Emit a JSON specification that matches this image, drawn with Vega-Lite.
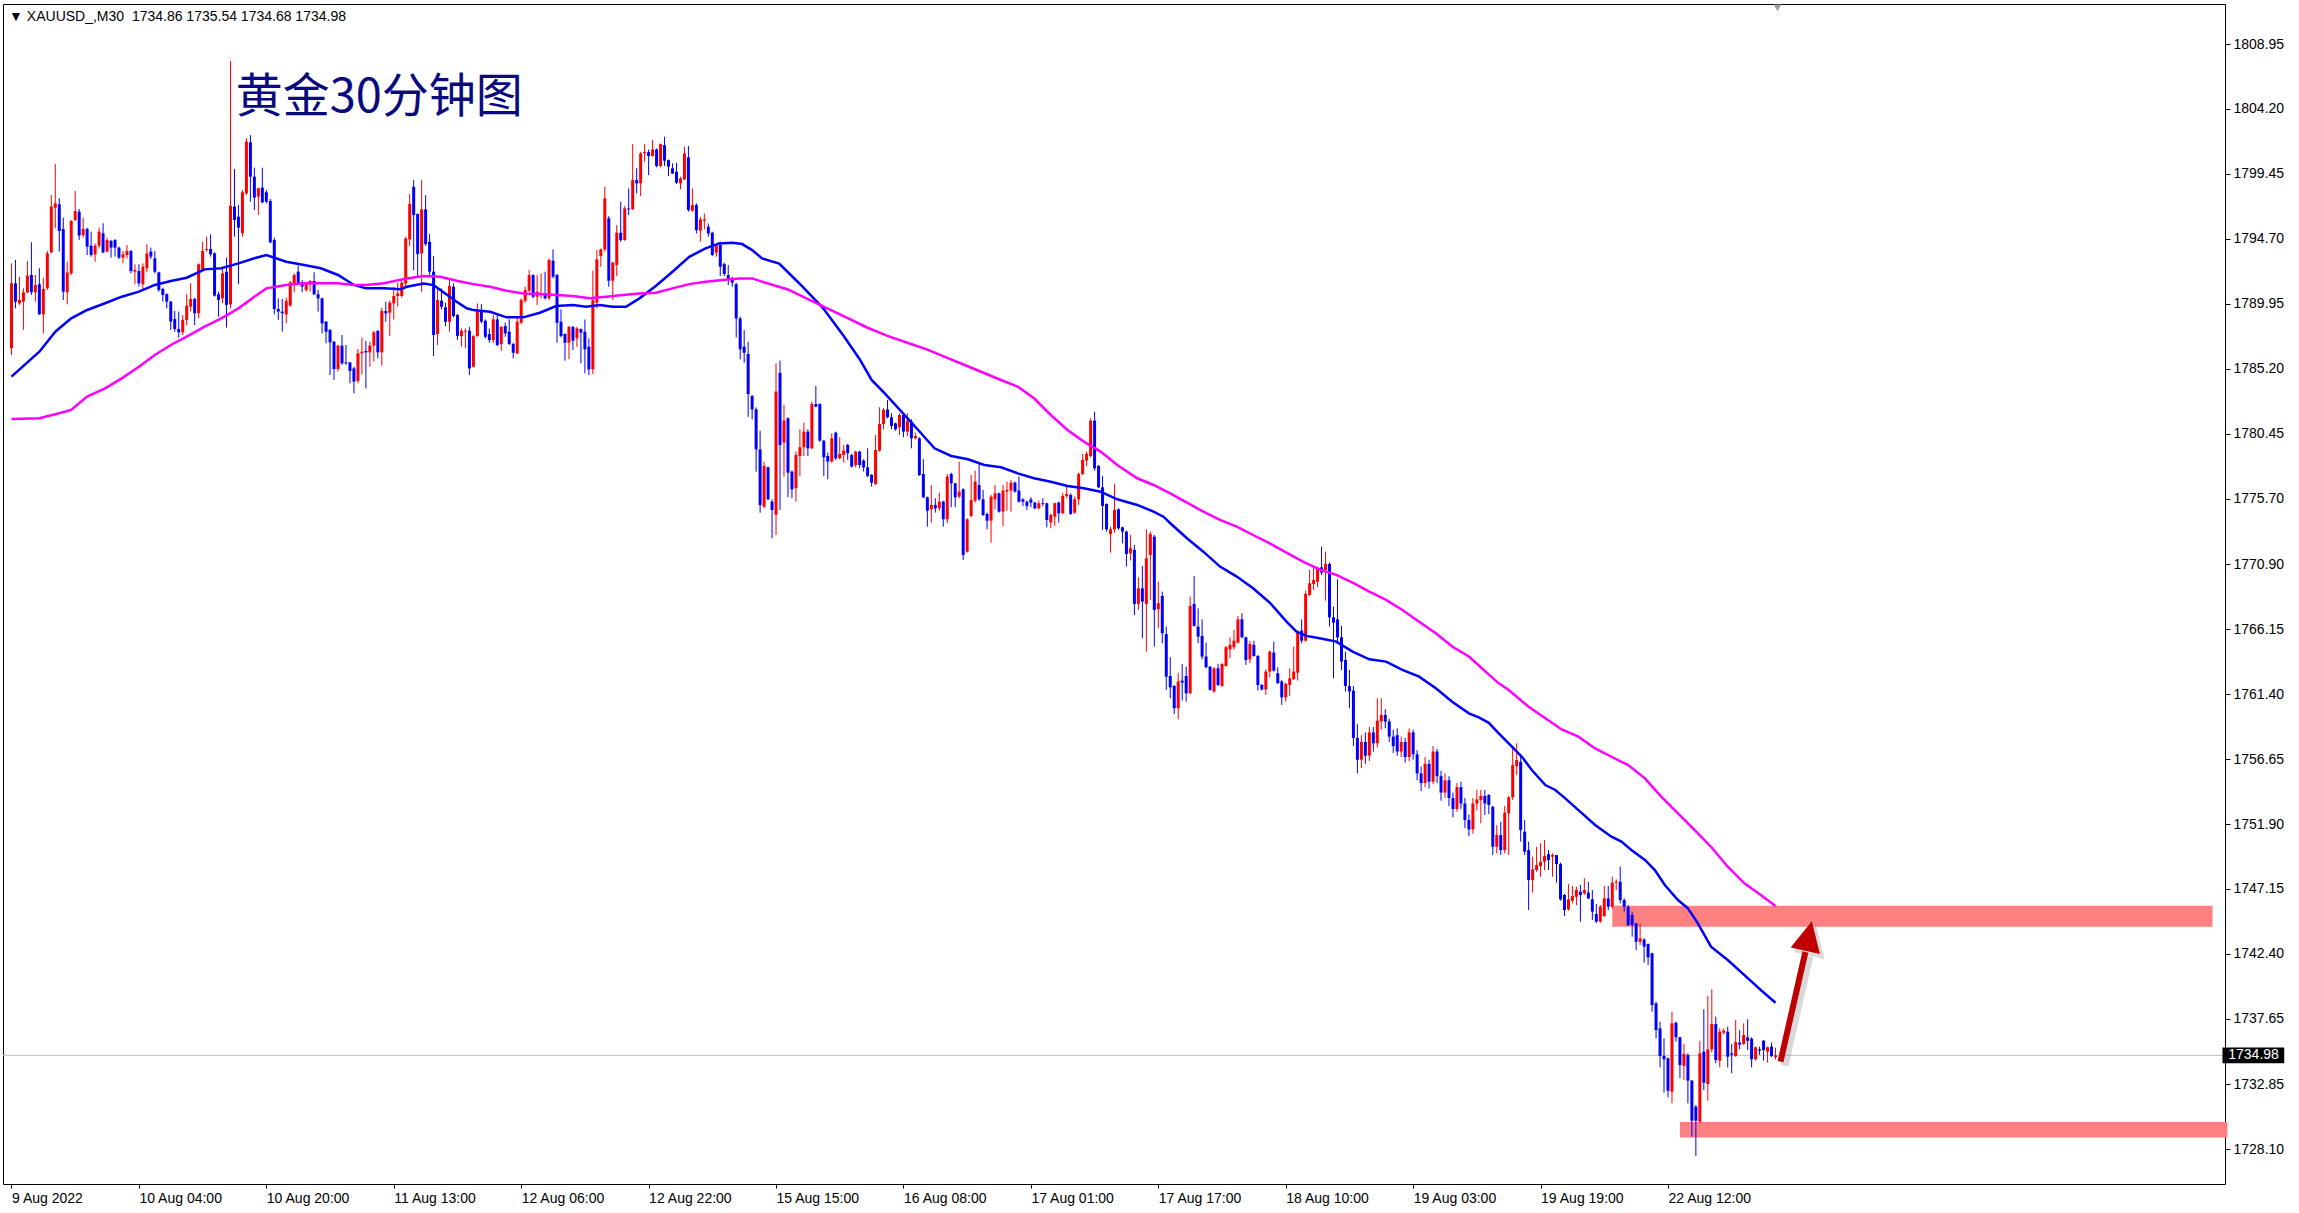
{
"$schema":"https://vega.github.io/schema/vega-lite/v6.json",
"width":2222,"height":1180,
"autosize":{"type":"none"},
"padding":{"left":3,"top":4,"right":74,"bottom":29},
"background":"#ffffff",
"config":{"view":{"stroke":"#000000","strokeWidth":1,"fill":"#ffffff"}},
"resolve":{"axis":{"x":"independent","y":"independent"}},
"datasets":{
"candles":[
{"i":0,"o":1786.7,"h":1792.91,"l":1786.21,"c":1791.45},
{"i":1,"o":1791.45,"h":1793.16,"l":1789.62,"c":1790.11},
{"i":2,"o":1789.99,"h":1791.94,"l":1789.87,"c":1790.23},
{"i":3,"o":1790.11,"h":1791.08,"l":1788.04,"c":1790.79},
{"i":4,"o":1790.79,"h":1793.08,"l":1790.72,"c":1792.01},
{"i":5,"o":1792.06,"h":1794.45,"l":1790.6,"c":1790.79},
{"i":6,"o":1790.79,"h":1792.06,"l":1790.11,"c":1791.33},
{"i":7,"o":1791.38,"h":1792.55,"l":1789.13,"c":1789.18},
{"i":8,"o":1789.18,"h":1791.86,"l":1787.79,"c":1791.04},
{"i":9,"o":1791.08,"h":1793.81,"l":1790.96,"c":1793.64},
{"i":10,"o":1793.72,"h":1797.91,"l":1793.64,"c":1797.06},
{"i":11,"o":1796.98,"h":1800.18,"l":1795.47,"c":1797.3},
{"i":12,"o":1797.23,"h":1797.67,"l":1793.77,"c":1795.28},
{"i":13,"o":1795.42,"h":1796.25,"l":1790.23,"c":1790.84},
{"i":14,"o":1790.79,"h":1793.03,"l":1789.91,"c":1792.25},
{"i":15,"o":1792.18,"h":1796.08,"l":1792.06,"c":1796.01},
{"i":16,"o":1796.08,"h":1798.2,"l":1796.01,"c":1796.74},
{"i":17,"o":1796.69,"h":1796.89,"l":1794.62,"c":1794.94},
{"i":18,"o":1794.98,"h":1796.25,"l":1794.79,"c":1795.42},
{"i":19,"o":1795.42,"h":1795.52,"l":1793.52,"c":1794.13},
{"i":20,"o":1794.2,"h":1795.23,"l":1793.4,"c":1793.52},
{"i":21,"o":1793.57,"h":1794.37,"l":1793.03,"c":1794.2},
{"i":22,"o":1794.2,"h":1795.52,"l":1794.01,"c":1795.23},
{"i":23,"o":1795.11,"h":1795.84,"l":1793.64,"c":1793.72},
{"i":24,"o":1793.77,"h":1794.79,"l":1793.72,"c":1794.62},
{"i":25,"o":1794.55,"h":1794.62,"l":1793.33,"c":1794.06},
{"i":26,"o":1794.62,"h":1794.69,"l":1793.4,"c":1794.06},
{"i":27,"o":1794.06,"h":1794.13,"l":1793.23,"c":1793.33},
{"i":28,"o":1793.33,"h":1793.81,"l":1792.91,"c":1793.57},
{"i":29,"o":1793.52,"h":1794.25,"l":1793.28,"c":1793.81},
{"i":30,"o":1793.81,"h":1793.89,"l":1792.18,"c":1792.35},
{"i":31,"o":1792.3,"h":1792.84,"l":1791.38,"c":1792.42},
{"i":32,"o":1792.35,"h":1792.84,"l":1791.21,"c":1791.45},
{"i":33,"o":1791.38,"h":1792.91,"l":1790.96,"c":1792.67},
{"i":34,"o":1792.55,"h":1794.3,"l":1792.25,"c":1793.64},
{"i":35,"o":1793.77,"h":1794.06,"l":1793.23,"c":1793.4},
{"i":36,"o":1793.28,"h":1793.81,"l":1792.18,"c":1792.3},
{"i":37,"o":1792.25,"h":1792.3,"l":1790.84,"c":1790.96},
{"i":38,"o":1791.04,"h":1791.13,"l":1790.11,"c":1790.6},
{"i":39,"o":1790.65,"h":1790.72,"l":1789.62,"c":1790.11},
{"i":40,"o":1790.11,"h":1790.16,"l":1788.04,"c":1788.65},
{"i":41,"o":1788.84,"h":1789.43,"l":1787.91,"c":1788.11},
{"i":42,"o":1788.11,"h":1789.38,"l":1787.48,"c":1787.87},
{"i":43,"o":1787.87,"h":1789.13,"l":1787.67,"c":1788.77},
{"i":44,"o":1788.77,"h":1790.65,"l":1788.4,"c":1789.82},
{"i":45,"o":1789.74,"h":1791.45,"l":1789.38,"c":1790.3},
{"i":46,"o":1790.3,"h":1790.4,"l":1788.4,"c":1789.26},
{"i":47,"o":1789.26,"h":1792.91,"l":1788.89,"c":1792.84},
{"i":48,"o":1792.42,"h":1794.5,"l":1792.35,"c":1793.81},
{"i":49,"o":1793.89,"h":1794.86,"l":1793.77,"c":1793.96},
{"i":50,"o":1793.96,"h":1795.03,"l":1793.4,"c":1793.57},
{"i":51,"o":1793.64,"h":1793.72,"l":1790.48,"c":1790.55},
{"i":52,"o":1790.65,"h":1790.84,"l":1789.01,"c":1790.23},
{"i":53,"o":1790.35,"h":1792.55,"l":1789.99,"c":1792.18},
{"i":54,"o":1792.3,"h":1793.33,"l":1788.21,"c":1789.87},
{"i":55,"o":1789.91,"h":1807.71,"l":1789.62,"c":1797.13},
{"i":56,"o":1797.06,"h":1799.81,"l":1794.86,"c":1796.08},
{"i":57,"o":1796.33,"h":1797.18,"l":1791.38,"c":1795.52},
{"i":58,"o":1795.11,"h":1798.28,"l":1794.86,"c":1798.11},
{"i":59,"o":1798.03,"h":1802.06,"l":1797.91,"c":1801.81},
{"i":60,"o":1801.76,"h":1802.3,"l":1797.42,"c":1799.25},
{"i":61,"o":1799.25,"h":1799.91,"l":1796.81,"c":1797.72},
{"i":62,"o":1797.79,"h":1798.45,"l":1796.45,"c":1798.4},
{"i":63,"o":1798.45,"h":1799.91,"l":1797.3,"c":1797.37},
{"i":64,"o":1798.11,"h":1798.28,"l":1797.3,"c":1797.42},
{"i":65,"o":1797.47,"h":1797.62,"l":1794.37,"c":1794.45},
{"i":66,"o":1794.62,"h":1794.79,"l":1789.18,"c":1789.57},
{"i":67,"o":1789.57,"h":1790.35,"l":1788.77,"c":1789.38},
{"i":68,"o":1789.38,"h":1790.3,"l":1787.91,"c":1789.26},
{"i":69,"o":1789.18,"h":1790.4,"l":1788.52,"c":1790.16},
{"i":70,"o":1789.82,"h":1791.62,"l":1789.74,"c":1791.52},
{"i":71,"o":1791.45,"h":1792.18,"l":1790.79,"c":1792.06},
{"i":72,"o":1792.3,"h":1792.74,"l":1791.33,"c":1791.45},
{"i":73,"o":1791.52,"h":1791.69,"l":1790.79,"c":1791.21},
{"i":74,"o":1790.96,"h":1791.57,"l":1790.84,"c":1791.52},
{"i":75,"o":1791.38,"h":1791.69,"l":1790.84,"c":1791.62},
{"i":76,"o":1791.62,"h":1792.25,"l":1790.6,"c":1790.65},
{"i":77,"o":1790.65,"h":1790.96,"l":1789.38,"c":1790.35},
{"i":78,"o":1790.35,"h":1790.4,"l":1787.79,"c":1788.52},
{"i":79,"o":1788.65,"h":1788.69,"l":1787.06,"c":1787.91},
{"i":80,"o":1788.04,"h":1788.11,"l":1784.75,"c":1787.13},
{"i":81,"o":1787.18,"h":1787.23,"l":1784.38,"c":1785.18},
{"i":82,"o":1785.18,"h":1786.94,"l":1784.99,"c":1786.89},
{"i":83,"o":1786.89,"h":1787.67,"l":1785.48,"c":1785.6},
{"i":84,"o":1785.67,"h":1786.94,"l":1785.48,"c":1785.6},
{"i":85,"o":1785.67,"h":1785.67,"l":1784.14,"c":1785.04},
{"i":86,"o":1785.23,"h":1785.35,"l":1783.4,"c":1784.26},
{"i":87,"o":1784.31,"h":1786.65,"l":1784.14,"c":1786.33},
{"i":88,"o":1786.33,"h":1787.48,"l":1784.79,"c":1786.45},
{"i":89,"o":1786.5,"h":1787.23,"l":1783.77,"c":1786.4},
{"i":90,"o":1786.4,"h":1787.18,"l":1785.35,"c":1786.89},
{"i":91,"o":1786.89,"h":1787.96,"l":1785.72,"c":1787.87},
{"i":92,"o":1787.96,"h":1788.04,"l":1785.96,"c":1786.4},
{"i":93,"o":1786.4,"h":1789.67,"l":1785.43,"c":1789.43},
{"i":94,"o":1789.42,"h":1790.1,"l":1788.64,"c":1789.25},
{"i":95,"o":1789.3,"h":1790.18,"l":1787.59,"c":1790.03},
{"i":96,"o":1789.98,"h":1791.2,"l":1788.81,"c":1790.52},
{"i":97,"o":1790.52,"h":1791.49,"l":1789.74,"c":1790.71},
{"i":98,"o":1790.52,"h":1791.69,"l":1790.42,"c":1791.49},
{"i":99,"o":1791.44,"h":1794.86,"l":1791.2,"c":1794.73},
{"i":100,"o":1794.66,"h":1797.98,"l":1794.18,"c":1797.25},
{"i":101,"o":1798.51,"h":1799.0,"l":1792.42,"c":1796.44},
{"i":102,"o":1796.52,"h":1796.56,"l":1791.98,"c":1793.59},
{"i":103,"o":1793.64,"h":1799.0,"l":1790.83,"c":1796.86},
{"i":104,"o":1796.86,"h":1797.9,"l":1794.18,"c":1794.32},
{"i":105,"o":1794.49,"h":1795.05,"l":1791.93,"c":1792.3},
{"i":106,"o":1792.3,"h":1793.44,"l":1786.13,"c":1787.67},
{"i":107,"o":1787.74,"h":1791.08,"l":1786.93,"c":1790.22},
{"i":108,"o":1790.18,"h":1791.08,"l":1789.54,"c":1789.74},
{"i":109,"o":1789.69,"h":1790.03,"l":1788.32,"c":1788.64},
{"i":110,"o":1788.64,"h":1791.69,"l":1787.91,"c":1791.25},
{"i":111,"o":1791.2,"h":1791.44,"l":1788.96,"c":1789.06},
{"i":112,"o":1789.13,"h":1789.2,"l":1787.3,"c":1787.59},
{"i":113,"o":1787.59,"h":1788.15,"l":1786.81,"c":1787.98},
{"i":114,"o":1787.91,"h":1788.15,"l":1786.69,"c":1787.98},
{"i":115,"o":1787.98,"h":1788.27,"l":1784.74,"c":1785.23},
{"i":116,"o":1785.35,"h":1787.66,"l":1785.3,"c":1787.59},
{"i":117,"o":1787.59,"h":1789.98,"l":1787.54,"c":1789.44},
{"i":118,"o":1789.49,"h":1789.93,"l":1788.52,"c":1788.64},
{"i":119,"o":1788.71,"h":1788.81,"l":1787.42,"c":1787.54},
{"i":120,"o":1787.74,"h":1788.15,"l":1787.1,"c":1787.3},
{"i":121,"o":1787.3,"h":1789.13,"l":1787.1,"c":1788.81},
{"i":122,"o":1788.81,"h":1789.13,"l":1786.86,"c":1786.93},
{"i":123,"o":1787.01,"h":1788.32,"l":1786.52,"c":1788.27},
{"i":124,"o":1788.32,"h":1788.57,"l":1787.54,"c":1787.79},
{"i":125,"o":1787.91,"h":1788.81,"l":1786.93,"c":1787.01},
{"i":126,"o":1787.01,"h":1787.1,"l":1785.96,"c":1786.37},
{"i":127,"o":1786.32,"h":1789.06,"l":1786.28,"c":1788.64},
{"i":128,"o":1788.57,"h":1790.35,"l":1788.47,"c":1790.22},
{"i":129,"o":1790.18,"h":1791.2,"l":1790.03,"c":1790.96},
{"i":130,"o":1790.91,"h":1792.42,"l":1790.83,"c":1792.05},
{"i":131,"o":1792.05,"h":1792.13,"l":1790.35,"c":1790.47},
{"i":132,"o":1790.47,"h":1792.05,"l":1789.86,"c":1790.83},
{"i":133,"o":1790.59,"h":1792.17,"l":1790.35,"c":1790.71},
{"i":134,"o":1790.66,"h":1792.3,"l":1790.27,"c":1790.35},
{"i":135,"o":1790.35,"h":1793.27,"l":1790.22,"c":1793.15},
{"i":136,"o":1793.1,"h":1793.93,"l":1791.81,"c":1791.93},
{"i":137,"o":1792.05,"h":1792.13,"l":1787.1,"c":1788.57},
{"i":138,"o":1788.64,"h":1789.54,"l":1787.49,"c":1787.59},
{"i":139,"o":1787.74,"h":1787.79,"l":1785.79,"c":1787.1},
{"i":140,"o":1787.1,"h":1788.32,"l":1785.89,"c":1788.27},
{"i":141,"o":1788.27,"h":1788.32,"l":1786.57,"c":1787.25},
{"i":142,"o":1787.42,"h":1788.27,"l":1786.81,"c":1788.15},
{"i":143,"o":1788.1,"h":1788.15,"l":1785.59,"c":1787.84},
{"i":144,"o":1787.91,"h":1788.81,"l":1784.86,"c":1786.62},
{"i":145,"o":1786.81,"h":1787.42,"l":1784.74,"c":1785.15},
{"i":146,"o":1785.15,"h":1792.37,"l":1784.81,"c":1790.22},
{"i":147,"o":1790.03,"h":1793.88,"l":1789.62,"c":1793.2},
{"i":148,"o":1793.44,"h":1794.0,"l":1792.66,"c":1793.93},
{"i":149,"o":1793.93,"h":1798.51,"l":1793.76,"c":1797.66},
{"i":150,"o":1796.2,"h":1796.37,"l":1791.2,"c":1791.64},
{"i":151,"o":1791.64,"h":1793.03,"l":1790.22,"c":1792.96},
{"i":152,"o":1792.79,"h":1795.71,"l":1791.98,"c":1795.15},
{"i":153,"o":1795.15,"h":1797.42,"l":1794.49,"c":1794.61},
{"i":154,"o":1794.61,"h":1797.1,"l":1794.56,"c":1796.93},
{"i":155,"o":1796.93,"h":1798.39,"l":1796.44,"c":1796.86},
{"i":156,"o":1796.86,"h":1801.63,"l":1796.81,"c":1799.0},
{"i":157,"o":1799.0,"h":1799.86,"l":1798.03,"c":1798.76},
{"i":158,"o":1798.76,"h":1801.07,"l":1797.83,"c":1800.95},
{"i":159,"o":1800.95,"h":1801.63,"l":1800.34,"c":1801.05},
{"i":160,"o":1801.05,"h":1801.24,"l":1799.37,"c":1800.76},
{"i":161,"o":1800.76,"h":1801.93,"l":1800.71,"c":1801.24},
{"i":162,"o":1801.24,"h":1801.32,"l":1799.93,"c":1800.03},
{"i":163,"o":1800.03,"h":1801.68,"l":1799.93,"c":1801.63},
{"i":164,"o":1801.56,"h":1802.17,"l":1800.03,"c":1800.42},
{"i":165,"o":1800.46,"h":1800.51,"l":1799.29,"c":1799.98},
{"i":166,"o":1799.86,"h":1800.22,"l":1799.44,"c":1799.49},
{"i":167,"o":1799.61,"h":1800.27,"l":1798.71,"c":1798.81},
{"i":168,"o":1798.76,"h":1799.25,"l":1798.32,"c":1799.12},
{"i":169,"o":1799.05,"h":1801.44,"l":1799.0,"c":1800.95},
{"i":170,"o":1800.66,"h":1801.49,"l":1796.69,"c":1796.81},
{"i":171,"o":1796.76,"h":1798.39,"l":1796.69,"c":1797.17},
{"i":172,"o":1797.17,"h":1797.3,"l":1795.1,"c":1795.34},
{"i":173,"o":1795.3,"h":1796.32,"l":1794.49,"c":1796.12},
{"i":174,"o":1796.03,"h":1796.56,"l":1795.39,"c":1796.12},
{"i":175,"o":1795.59,"h":1795.83,"l":1794.86,"c":1795.1},
{"i":176,"o":1795.15,"h":1795.22,"l":1793.44,"c":1793.52},
{"i":177,"o":1793.69,"h":1794.37,"l":1793.39,"c":1794.25},
{"i":178,"o":1794.25,"h":1794.49,"l":1791.98,"c":1792.66},
{"i":179,"o":1792.86,"h":1792.96,"l":1791.98,"c":1792.13},
{"i":180,"o":1792.05,"h":1792.79,"l":1791.32,"c":1791.81},
{"i":181,"o":1791.74,"h":1791.93,"l":1791.2,"c":1791.49},
{"i":182,"o":1791.39,"h":1791.49,"l":1787.49,"c":1788.88},
{"i":183,"o":1788.88,"h":1789.01,"l":1785.89,"c":1786.62},
{"i":184,"o":1786.81,"h":1788.03,"l":1785.64,"c":1786.37},
{"i":185,"o":1786.28,"h":1787.18,"l":1781.69,"c":1783.35},
{"i":186,"o":1783.2,"h":1783.28,"l":1781.5,"c":1782.23},
{"i":187,"o":1782.23,"h":1782.37,"l":1777.67,"c":1779.3},
{"i":188,"o":1779.3,"h":1780.67,"l":1774.67,"c":1775.23},
{"i":189,"o":1775.12,"h":1778.41,"l":1774.99,"c":1778.09},
{"i":190,"o":1777.99,"h":1778.04,"l":1775.6,"c":1775.65},
{"i":191,"o":1775.48,"h":1775.65,"l":1772.8,"c":1774.87},
{"i":192,"o":1774.51,"h":1785.6,"l":1773.04,"c":1783.53},
{"i":193,"o":1784.9,"h":1785.8,"l":1774.87,"c":1779.63},
{"i":194,"o":1779.8,"h":1782.55,"l":1777.31,"c":1781.41},
{"i":195,"o":1781.58,"h":1781.65,"l":1775.8,"c":1777.6},
{"i":196,"o":1777.68,"h":1777.75,"l":1775.73,"c":1776.38},
{"i":197,"o":1776.46,"h":1779.14,"l":1775.48,"c":1778.89},
{"i":198,"o":1778.82,"h":1780.77,"l":1777.36,"c":1779.46},
{"i":199,"o":1779.46,"h":1781.26,"l":1778.82,"c":1780.6},
{"i":200,"o":1780.6,"h":1780.77,"l":1778.82,"c":1779.38},
{"i":201,"o":1779.38,"h":1782.8,"l":1779.31,"c":1782.62},
{"i":202,"o":1782.62,"h":1783.94,"l":1782.38,"c":1782.43},
{"i":203,"o":1782.62,"h":1782.67,"l":1779.87,"c":1779.94},
{"i":204,"o":1779.94,"h":1779.99,"l":1777.36,"c":1778.72},
{"i":205,"o":1778.82,"h":1779.07,"l":1777.11,"c":1778.41},
{"i":206,"o":1778.41,"h":1780.48,"l":1778.33,"c":1780.11},
{"i":207,"o":1780.53,"h":1780.6,"l":1778.53,"c":1778.65},
{"i":208,"o":1778.65,"h":1780.19,"l":1778.58,"c":1778.97},
{"i":209,"o":1778.89,"h":1779.63,"l":1778.33,"c":1779.21},
{"i":210,"o":1779.63,"h":1779.7,"l":1778.53,"c":1779.02},
{"i":211,"o":1778.89,"h":1778.97,"l":1777.99,"c":1778.04},
{"i":212,"o":1778.16,"h":1779.21,"l":1777.99,"c":1779.14},
{"i":213,"o":1779.14,"h":1779.21,"l":1777.92,"c":1778.16},
{"i":214,"o":1778.48,"h":1778.58,"l":1777.68,"c":1777.99},
{"i":215,"o":1777.99,"h":1779.38,"l":1777.26,"c":1777.36},
{"i":216,"o":1777.43,"h":1777.5,"l":1776.58,"c":1776.87},
{"i":217,"o":1776.77,"h":1780.36,"l":1776.7,"c":1779.26},
{"i":218,"o":1779.21,"h":1782.38,"l":1779.14,"c":1781.16},
{"i":219,"o":1781.16,"h":1782.31,"l":1780.77,"c":1782.19},
{"i":220,"o":1782.23,"h":1782.92,"l":1781.58,"c":1781.65},
{"i":221,"o":1781.65,"h":1781.94,"l":1780.77,"c":1781.02},
{"i":222,"o":1781.21,"h":1781.26,"l":1780.67,"c":1780.77},
{"i":223,"o":1780.92,"h":1781.94,"l":1780.36,"c":1781.82},
{"i":224,"o":1781.82,"h":1781.94,"l":1780.19,"c":1780.6},
{"i":225,"o":1780.6,"h":1781.94,"l":1780.28,"c":1781.41},
{"i":226,"o":1781.33,"h":1781.5,"l":1779.38,"c":1780.11},
{"i":227,"o":1780.11,"h":1780.53,"l":1780.04,"c":1780.28},
{"i":228,"o":1780.11,"h":1780.19,"l":1777.36,"c":1777.43},
{"i":229,"o":1777.5,"h":1778.58,"l":1775.73,"c":1775.8},
{"i":230,"o":1775.8,"h":1775.85,"l":1773.65,"c":1774.82},
{"i":231,"o":1774.92,"h":1776.7,"l":1773.95,"c":1775.24},
{"i":232,"o":1775.24,"h":1775.73,"l":1774.68,"c":1774.99},
{"i":233,"o":1774.99,"h":1776.14,"l":1774.82,"c":1775.48},
{"i":234,"o":1775.48,"h":1775.55,"l":1773.65,"c":1774.19},
{"i":235,"o":1774.19,"h":1777.5,"l":1773.9,"c":1777.31},
{"i":236,"o":1777.5,"h":1777.6,"l":1775.07,"c":1776.82},
{"i":237,"o":1776.82,"h":1776.87,"l":1775.07,"c":1775.8},
{"i":238,"o":1775.85,"h":1778.41,"l":1775.73,"c":1776.21},
{"i":239,"o":1776.38,"h":1776.46,"l":1771.21,"c":1771.58},
{"i":240,"o":1771.82,"h":1774.26,"l":1771.75,"c":1774.19},
{"i":241,"o":1774.43,"h":1777.43,"l":1774.34,"c":1775.6},
{"i":242,"o":1775.55,"h":1777.75,"l":1775.41,"c":1776.94},
{"i":243,"o":1776.7,"h":1778.29,"l":1775.55,"c":1775.65},
{"i":244,"o":1775.65,"h":1776.33,"l":1774.43,"c":1774.51},
{"i":245,"o":1774.58,"h":1774.68,"l":1773.46,"c":1774.09},
{"i":246,"o":1774.09,"h":1775.97,"l":1772.48,"c":1775.85},
{"i":247,"o":1775.65,"h":1776.7,"l":1774.92,"c":1776.09},
{"i":248,"o":1776.09,"h":1776.14,"l":1774.68,"c":1774.75},
{"i":249,"o":1774.75,"h":1776.7,"l":1773.7,"c":1776.29},
{"i":250,"o":1776.21,"h":1776.94,"l":1774.82,"c":1776.33},
{"i":251,"o":1776.29,"h":1777.07,"l":1774.75,"c":1776.87},
{"i":252,"o":1776.87,"h":1776.94,"l":1776.14,"c":1776.21},
{"i":253,"o":1776.29,"h":1777.31,"l":1775.41,"c":1775.48},
{"i":254,"o":1775.65,"h":1775.73,"l":1775.16,"c":1775.48},
{"i":255,"o":1775.48,"h":1775.55,"l":1774.87,"c":1775.16},
{"i":256,"o":1775.65,"h":1775.8,"l":1775.07,"c":1775.41},
{"i":257,"o":1775.41,"h":1775.48,"l":1774.92,"c":1774.99},
{"i":258,"o":1774.99,"h":1775.55,"l":1774.92,"c":1775.36},
{"i":259,"o":1775.36,"h":1775.73,"l":1775.16,"c":1775.31},
{"i":260,"o":1775.36,"h":1775.41,"l":1773.6,"c":1774.14},
{"i":261,"o":1773.95,"h":1774.58,"l":1773.53,"c":1774.51},
{"i":262,"o":1774.38,"h":1775.41,"l":1773.7,"c":1775.36},
{"i":263,"o":1775.41,"h":1775.48,"l":1773.95,"c":1774.63},
{"i":264,"o":1774.63,"h":1776.14,"l":1774.58,"c":1775.9},
{"i":265,"o":1775.9,"h":1776.58,"l":1775.73,"c":1776.04},
{"i":266,"o":1775.97,"h":1776.09,"l":1774.51,"c":1774.58},
{"i":267,"o":1774.68,"h":1775.85,"l":1774.58,"c":1775.65},
{"i":268,"o":1775.65,"h":1777.6,"l":1775.24,"c":1777.5},
{"i":269,"o":1777.5,"h":1778.97,"l":1777.43,"c":1778.53},
{"i":270,"o":1778.48,"h":1779.14,"l":1778.09,"c":1778.97},
{"i":271,"o":1778.82,"h":1781.58,"l":1778.72,"c":1781.41},
{"i":272,"o":1781.41,"h":1782.06,"l":1777.75,"c":1777.92},
{"i":273,"o":1778.09,"h":1778.16,"l":1776.46,"c":1776.53},
{"i":274,"o":1776.53,"h":1777.36,"l":1773.41,"c":1775.16},
{"i":275,"o":1775.31,"h":1775.36,"l":1773.29,"c":1773.46},
{"i":276,"o":1773.12,"h":1773.65,"l":1771.75,"c":1773.46},
{"i":277,"o":1773.46,"h":1776.77,"l":1773.21,"c":1774.87},
{"i":278,"o":1774.92,"h":1774.99,"l":1773.41,"c":1773.53},
{"i":279,"o":1773.6,"h":1773.65,"l":1772.43,"c":1773.29},
{"i":280,"o":1773.29,"h":1773.36,"l":1770.73,"c":1771.65},
{"i":281,"o":1771.7,"h":1773.04,"l":1771.17,"c":1772.07},
{"i":282,"o":1771.95,"h":1772.31,"l":1767.19,"c":1768.0},
{"i":283,"o":1768.0,"h":1769.95,"l":1767.56,"c":1769.14},
{"i":284,"o":1769.14,"h":1770.78,"l":1765.49,"c":1768.17},
{"i":285,"o":1768.0,"h":1773.46,"l":1764.51,"c":1771.34},
{"i":286,"o":1771.58,"h":1773.29,"l":1768.29,"c":1773.12},
{"i":287,"o":1772.92,"h":1773.04,"l":1764.88,"c":1767.56},
{"i":288,"o":1767.61,"h":1769.63,"l":1766.22,"c":1768.05},
{"i":289,"o":1768.58,"h":1768.9,"l":1765.12,"c":1765.85},
{"i":290,"o":1765.8,"h":1766.34,"l":1761.71,"c":1762.68},
{"i":291,"o":1762.73,"h":1764.1,"l":1761.1,"c":1761.9},
{"i":292,"o":1762.0,"h":1762.07,"l":1759.95,"c":1760.37},
{"i":293,"o":1760.37,"h":1762.97,"l":1759.56,"c":1762.32},
{"i":294,"o":1762.39,"h":1763.61,"l":1760.93,"c":1762.24},
{"i":295,"o":1762.73,"h":1763.41,"l":1760.85,"c":1761.46},
{"i":296,"o":1761.46,"h":1768.53,"l":1761.41,"c":1767.85},
{"i":297,"o":1768.0,"h":1770.04,"l":1766.34,"c":1766.39},
{"i":298,"o":1766.34,"h":1767.68,"l":1765.12,"c":1765.61},
{"i":299,"o":1765.66,"h":1766.87,"l":1763.95,"c":1764.15},
{"i":300,"o":1764.15,"h":1765.17,"l":1763.29,"c":1763.37},
{"i":301,"o":1763.41,"h":1763.46,"l":1761.66,"c":1761.71},
{"i":302,"o":1761.59,"h":1763.37,"l":1761.51,"c":1763.29},
{"i":303,"o":1763.29,"h":1763.61,"l":1762.0,"c":1762.07},
{"i":304,"o":1762.0,"h":1763.66,"l":1761.95,"c":1763.61},
{"i":305,"o":1763.46,"h":1764.92,"l":1763.41,"c":1764.83},
{"i":306,"o":1764.68,"h":1765.56,"l":1764.02,"c":1765.0},
{"i":307,"o":1764.83,"h":1766.09,"l":1764.68,"c":1765.31},
{"i":308,"o":1765.17,"h":1767.12,"l":1765.12,"c":1766.87},
{"i":309,"o":1766.87,"h":1767.32,"l":1765.49,"c":1765.56},
{"i":310,"o":1765.56,"h":1765.61,"l":1763.54,"c":1763.9},
{"i":311,"o":1763.95,"h":1765.31,"l":1763.66,"c":1765.07},
{"i":312,"o":1765.0,"h":1765.31,"l":1764.14,"c":1764.19},
{"i":313,"o":1764.19,"h":1764.27,"l":1761.66,"c":1762.07},
{"i":314,"o":1762.07,"h":1762.15,"l":1761.66,"c":1761.75},
{"i":315,"o":1761.75,"h":1763.22,"l":1761.34,"c":1763.05},
{"i":316,"o":1763.05,"h":1764.58,"l":1762.63,"c":1764.51},
{"i":317,"o":1764.44,"h":1765.24,"l":1763.05,"c":1763.12},
{"i":318,"o":1762.93,"h":1763.37,"l":1762.15,"c":1762.2},
{"i":319,"o":1762.32,"h":1762.44,"l":1760.61,"c":1761.17},
{"i":320,"o":1761.17,"h":1762.24,"l":1760.85,"c":1762.15},
{"i":321,"o":1762.07,"h":1763.29,"l":1761.27,"c":1762.56},
{"i":322,"o":1762.49,"h":1764.88,"l":1762.44,"c":1763.05},
{"i":323,"o":1762.97,"h":1766.05,"l":1762.39,"c":1765.97},
{"i":324,"o":1766.05,"h":1766.87,"l":1765.12,"c":1765.31},
{"i":325,"o":1765.31,"h":1768.97,"l":1765.24,"c":1768.73},
{"i":326,"o":1768.66,"h":1770.48,"l":1768.58,"c":1769.51},
{"i":327,"o":1769.46,"h":1770.68,"l":1769.02,"c":1769.75},
{"i":328,"o":1769.63,"h":1770.73,"l":1769.22,"c":1770.61},
{"i":329,"o":1770.68,"h":1772.19,"l":1770.12,"c":1770.29},
{"i":330,"o":1770.48,"h":1771.82,"l":1768.24,"c":1770.92},
{"i":331,"o":1770.92,"h":1771.02,"l":1766.34,"c":1767.02},
{"i":332,"o":1767.02,"h":1767.8,"l":1762.56,"c":1766.63},
{"i":333,"o":1766.87,"h":1769.8,"l":1765.12,"c":1765.56},
{"i":334,"o":1765.56,"h":1766.39,"l":1763.17,"c":1763.78},
{"i":335,"o":1763.9,"h":1764.51,"l":1761.59,"c":1762.0},
{"i":336,"o":1762.0,"h":1763.17,"l":1760.37,"c":1761.59},
{"i":337,"o":1761.66,"h":1762.0,"l":1757.6,"c":1758.2},
{"i":338,"o":1758.2,"h":1759.2,"l":1755.6,"c":1756.6},
{"i":339,"o":1756.6,"h":1758.4,"l":1756.0,"c":1757.9},
{"i":340,"o":1757.9,"h":1758.6,"l":1756.3,"c":1756.9},
{"i":341,"o":1756.9,"h":1759.0,"l":1756.5,"c":1758.6},
{"i":342,"o":1758.6,"h":1759.0,"l":1757.2,"c":1757.8},
{"i":343,"o":1757.8,"h":1761.1,"l":1757.5,"c":1759.46},
{"i":344,"o":1759.41,"h":1761.1,"l":1758.8,"c":1759.88},
{"i":345,"o":1759.88,"h":1760.3,"l":1758.9,"c":1759.39},
{"i":346,"o":1759.4,"h":1759.6,"l":1757.9,"c":1758.3},
{"i":347,"o":1758.3,"h":1758.8,"l":1757.1,"c":1757.6},
{"i":348,"o":1758.4,"h":1758.9,"l":1756.9,"c":1757.2},
{"i":349,"o":1757.2,"h":1758.3,"l":1756.8,"c":1757.9},
{"i":350,"o":1757.9,"h":1758.2,"l":1756.4,"c":1756.8},
{"i":351,"o":1756.8,"h":1758.9,"l":1756.5,"c":1758.6},
{"i":352,"o":1758.6,"h":1758.8,"l":1756.6,"c":1757.0},
{"i":353,"o":1757.0,"h":1757.3,"l":1755.1,"c":1755.6},
{"i":354,"o":1755.6,"h":1756.1,"l":1754.3,"c":1754.9},
{"i":355,"o":1754.9,"h":1756.8,"l":1754.6,"c":1756.3},
{"i":356,"o":1756.3,"h":1756.6,"l":1754.5,"c":1755.0},
{"i":357,"o":1755.0,"h":1757.6,"l":1754.8,"c":1757.2},
{"i":358,"o":1757.2,"h":1757.4,"l":1754.9,"c":1755.4},
{"i":359,"o":1755.4,"h":1755.8,"l":1753.6,"c":1754.2},
{"i":360,"o":1754.2,"h":1755.6,"l":1753.8,"c":1755.1},
{"i":361,"o":1755.1,"h":1755.4,"l":1753.2,"c":1753.8},
{"i":362,"o":1753.8,"h":1754.2,"l":1752.4,"c":1753.0},
{"i":363,"o":1753.0,"h":1754.9,"l":1752.8,"c":1754.6},
{"i":364,"o":1754.6,"h":1755.0,"l":1753.0,"c":1753.4},
{"i":365,"o":1753.4,"h":1753.8,"l":1751.6,"c":1752.2},
{"i":366,"o":1752.2,"h":1752.6,"l":1751.0,"c":1751.5},
{"i":367,"o":1751.5,"h":1753.8,"l":1751.2,"c":1753.4},
{"i":368,"o":1753.4,"h":1754.4,"l":1752.9,"c":1753.7},
{"i":369,"o":1753.65,"h":1754.39,"l":1751.95,"c":1753.95},
{"i":370,"o":1753.95,"h":1754.39,"l":1752.56,"c":1753.41},
{"i":371,"o":1754.02,"h":1754.09,"l":1752.63,"c":1753.29},
{"i":372,"o":1753.17,"h":1753.22,"l":1749.63,"c":1750.24},
{"i":373,"o":1750.24,"h":1751.83,"l":1749.75,"c":1751.09},
{"i":374,"o":1751.09,"h":1752.07,"l":1749.63,"c":1749.99},
{"i":375,"o":1749.99,"h":1753.22,"l":1749.75,"c":1752.73},
{"i":376,"o":1752.68,"h":1753.95,"l":1749.63,"c":1753.85},
{"i":377,"o":1753.85,"h":1757.56,"l":1753.65,"c":1756.21},
{"i":378,"o":1756.14,"h":1757.8,"l":1755.48,"c":1756.58},
{"i":379,"o":1756.46,"h":1756.95,"l":1750.61,"c":1751.46},
{"i":380,"o":1751.34,"h":1752.19,"l":1749.63,"c":1749.88},
{"i":381,"o":1749.99,"h":1750.61,"l":1745.61,"c":1747.8},
{"i":382,"o":1747.8,"h":1749.51,"l":1746.88,"c":1748.58},
{"i":383,"o":1748.53,"h":1750.24,"l":1748.41,"c":1748.9},
{"i":384,"o":1748.83,"h":1750.49,"l":1748.05,"c":1749.14},
{"i":385,"o":1749.14,"h":1750.73,"l":1748.53,"c":1749.56},
{"i":386,"o":1749.7,"h":1750.0,"l":1748.53,"c":1749.27},
{"i":387,"o":1749.51,"h":1749.75,"l":1748.05,"c":1749.63},
{"i":388,"o":1749.63,"h":1749.63,"l":1747.61,"c":1748.97},
{"i":389,"o":1748.97,"h":1749.07,"l":1746.29,"c":1746.39},
{"i":390,"o":1746.71,"h":1746.78,"l":1745.17,"c":1745.61},
{"i":391,"o":1745.66,"h":1747.51,"l":1745.56,"c":1746.39},
{"i":392,"o":1746.29,"h":1747.36,"l":1746.1,"c":1746.63},
{"i":393,"o":1746.58,"h":1747.32,"l":1745.97,"c":1747.07},
{"i":394,"o":1746.95,"h":1747.44,"l":1744.76,"c":1746.71},
{"i":395,"o":1746.83,"h":1747.93,"l":1746.71,"c":1747.07},
{"i":396,"o":1746.88,"h":1747.68,"l":1746.39,"c":1746.46},
{"i":397,"o":1746.39,"h":1747.07,"l":1744.88,"c":1745.49},
{"i":398,"o":1745.32,"h":1746.05,"l":1744.68,"c":1744.76},
{"i":399,"o":1744.76,"h":1745.97,"l":1744.68,"c":1745.85},
{"i":400,"o":1745.17,"h":1747.36,"l":1745.12,"c":1746.46},
{"i":401,"o":1746.46,"h":1747.36,"l":1745.61,"c":1745.85},
{"i":402,"o":1745.85,"h":1748.05,"l":1745.73,"c":1747.61},
{"i":403,"o":1747.61,"h":1747.85,"l":1747.07,"c":1747.68},
{"i":404,"o":1747.68,"h":1748.78,"l":1746.1,"c":1746.34},
{"i":405,"o":1746.34,"h":1746.46,"l":1745.49,"c":1745.85},
{"i":406,"o":1745.85,"h":1745.97,"l":1744.44,"c":1744.51},
{"i":407,"o":1745.24,"h":1745.49,"l":1743.66,"c":1744.51},
{"i":408,"o":1744.63,"h":1744.68,"l":1742.68,"c":1743.29},
{"i":409,"o":1743.29,"h":1744.63,"l":1743.05,"c":1743.54},
{"i":410,"o":1743.46,"h":1743.54,"l":1741.76,"c":1742.93},
{"i":411,"o":1743.12,"h":1743.17,"l":1741.59,"c":1742.15},
{"i":412,"o":1742.44,"h":1742.49,"l":1738.17,"c":1738.66},
{"i":413,"o":1738.78,"h":1738.9,"l":1736.22,"c":1736.83},
{"i":414,"o":1736.95,"h":1737.44,"l":1734.1,"c":1734.93},
{"i":415,"o":1734.93,"h":1736.22,"l":1732.25,"c":1734.69},
{"i":416,"o":1734.76,"h":1734.83,"l":1731.91,"c":1732.4},
{"i":417,"o":1732.32,"h":1738.17,"l":1731.47,"c":1737.32},
{"i":418,"o":1737.37,"h":1737.44,"l":1735.98,"c":1736.3},
{"i":419,"o":1736.3,"h":1736.34,"l":1733.3,"c":1734.27},
{"i":420,"o":1734.2,"h":1735.81,"l":1733.18,"c":1735.08},
{"i":421,"o":1735.0,"h":1735.13,"l":1731.47,"c":1733.13},
{"i":422,"o":1733.13,"h":1733.18,"l":1729.03,"c":1730.2},
{"i":423,"o":1731.23,"h":1731.35,"l":1727.62,"c":1730.2},
{"i":424,"o":1730.13,"h":1736.05,"l":1730.06,"c":1735.13},
{"i":425,"o":1735.25,"h":1738.35,"l":1732.44,"c":1732.98},
{"i":426,"o":1732.88,"h":1739.32,"l":1731.66,"c":1735.42},
{"i":427,"o":1735.42,"h":1739.81,"l":1735.2,"c":1737.27},
{"i":428,"o":1737.27,"h":1737.81,"l":1734.4,"c":1734.64},
{"i":429,"o":1734.59,"h":1736.96,"l":1734.1,"c":1736.71},
{"i":430,"o":1736.64,"h":1736.96,"l":1736.5,"c":1736.79},
{"i":431,"o":1736.71,"h":1737.08,"l":1734.1,"c":1734.88},
{"i":432,"o":1735.13,"h":1735.81,"l":1733.67,"c":1735.03},
{"i":433,"o":1734.93,"h":1737.57,"l":1734.88,"c":1735.96},
{"i":434,"o":1735.91,"h":1736.83,"l":1735.42,"c":1735.76},
{"i":435,"o":1735.81,"h":1737.32,"l":1735.74,"c":1736.47},
{"i":436,"o":1736.3,"h":1737.61,"l":1735.37,"c":1736.05},
{"i":437,"o":1736.2,"h":1736.3,"l":1734.1,"c":1734.69},
{"i":438,"o":1734.69,"h":1735.62,"l":1734.59,"c":1735.57},
{"i":439,"o":1735.42,"h":1735.62,"l":1735.01,"c":1735.32},
{"i":440,"o":1736.05,"h":1736.1,"l":1734.59,"c":1735.37},
{"i":441,"o":1735.25,"h":1735.62,"l":1734.45,"c":1735.57},
{"i":442,"o":1735.62,"h":1735.91,"l":1734.84,"c":1734.93},
{"i":443,"o":1734.86,"h":1735.54,"l":1734.68,"c":1734.98}
],
"ma1":[
{"i":0,"v":1784.62},{"i":7,"v":1786.45},{"i":11,"v":1787.91},{"i":15,"v":1788.89},{"i":19,"v":1789.5},{"i":23.5,"v":1789.99},{"i":27.7,"v":1790.47},{"i":32,"v":1790.84},{"i":36,"v":1791.33},{"i":40,"v":1791.62},{"i":44,"v":1791.86},{"i":48.5,"v":1792.47},{"i":52.7,"v":1792.55},{"i":57,"v":1792.91},{"i":61,"v":1793.28},{"i":64,"v":1793.52},{"i":69,"v":1793.03},{"i":73.5,"v":1792.79},{"i":77.7,"v":1792.55},{"i":82,"v":1792.06},{"i":86,"v":1791.33},{"i":89,"v":1791.08},{"i":93.5,"v":1791.08},{"i":97.7,"v":1791.01},{"i":99.3,"v":1791.2},{"i":103.5,"v":1791.44},{"i":106,"v":1791.32},{"i":107.7,"v":1790.96},{"i":111.8,"v":1790.1},{"i":114.3,"v":1789.62},{"i":116,"v":1789.49},{"i":120.2,"v":1789.37},{"i":124.3,"v":1788.96},{"i":128.5,"v":1788.96},{"i":132.7,"v":1789.3},{"i":136.8,"v":1789.79},{"i":141,"v":1789.86},{"i":144.3,"v":1789.74},{"i":147.7,"v":1789.86},{"i":151,"v":1789.74},{"i":154.3,"v":1789.74},{"i":157.7,"v":1790.35},{"i":161.8,"v":1791.25},{"i":166,"v":1792.3},{"i":170.2,"v":1793.39},{"i":174.3,"v":1794.0},{"i":177.7,"v":1794.37},{"i":181,"v":1794.42},{"i":183.5,"v":1794.32},{"i":186,"v":1793.88},{"i":188.5,"v":1793.27},{"i":192.8,"v":1792.9},{"i":198,"v":1791.4},{"i":203.8,"v":1789.64},{"i":209,"v":1787.6},{"i":213,"v":1785.9},{"i":216,"v":1784.38},{"i":219.3,"v":1783.4},{"i":223.5,"v":1782.06},{"i":227.7,"v":1780.72},{"i":231.8,"v":1779.38},{"i":236,"v":1778.82},{"i":240.2,"v":1778.58},{"i":244.3,"v":1778.16},{"i":248.5,"v":1777.99},{"i":252.7,"v":1777.55},{"i":256.8,"v":1777.19},{"i":261,"v":1776.94},{"i":265.2,"v":1776.63},{"i":269.3,"v":1776.46},{"i":273.5,"v":1776.21},{"i":277.7,"v":1775.65},{"i":282.7,"v":1775.24},{"i":286.8,"v":1774.75},{"i":289.3,"v":1774.38},{"i":291,"v":1773.9},{"i":295.2,"v":1772.8},{"i":299.3,"v":1771.82},{"i":303.5,"v":1770.73},{"i":307.7,"v":1770.0},{"i":311.8,"v":1769.14},{"i":316,"v":1768.09},{"i":320.2,"v":1766.7},{"i":322.7,"v":1765.97},{"i":325.2,"v":1765.66},{"i":328.5,"v":1765.49},{"i":332.7,"v":1765.24},{"i":336.8,"v":1764.51},{"i":341,"v":1763.95},{"i":345.2,"v":1763.78},{"i":349.3,"v":1763.17},{"i":353.5,"v":1762.68},{"i":357.7,"v":1761.83},{"i":361.8,"v":1760.85},{"i":366,"v":1760.0},{"i":368.5,"v":1759.7},{"i":371,"v":1759.3},{"i":373.5,"v":1758.53},{"i":376.8,"v":1757.56},{"i":379.3,"v":1756.82},{"i":381.8,"v":1755.85},{"i":385.2,"v":1754.75},{"i":387.7,"v":1754.39},{"i":390.2,"v":1753.78},{"i":393.5,"v":1752.92},{"i":397.7,"v":1751.83},{"i":401.8,"v":1750.97},{"i":404.3,"v":1750.61},{"i":406.8,"v":1750.0},{"i":410.2,"v":1749.27},{"i":412.7,"v":1748.53},{"i":415.2,"v":1747.44},{"i":418.5,"v":1746.34},{"i":421,"v":1745.73},{"i":423.5,"v":1744.63},{"i":426.8,"v":1742.93},{"i":431,"v":1741.95},{"i":435.2,"v":1740.85},{"i":439.3,"v":1739.76},{"i":443,"v":1738.83}
],
"ma2":[
{"i":0,"v":1781.53},{"i":7,"v":1781.58},{"i":11,"v":1781.87},{"i":15,"v":1782.19},{"i":19,"v":1783.16},{"i":23.5,"v":1783.77},{"i":27.7,"v":1784.5},{"i":32,"v":1785.35},{"i":36,"v":1786.21},{"i":40,"v":1786.94},{"i":44,"v":1787.55},{"i":48.5,"v":1788.28},{"i":52.7,"v":1788.89},{"i":57,"v":1789.62},{"i":61,"v":1790.47},{"i":64,"v":1791.08},{"i":69,"v":1791.33},{"i":73.5,"v":1791.45},{"i":82,"v":1791.45},{"i":86,"v":1791.33},{"i":89,"v":1791.33},{"i":93.5,"v":1791.45},{"i":99.3,"v":1791.81},{"i":103.5,"v":1791.98},{"i":107.7,"v":1791.93},{"i":111.8,"v":1791.64},{"i":116,"v":1791.39},{"i":120.2,"v":1791.2},{"i":124.3,"v":1790.91},{"i":128.5,"v":1790.71},{"i":132.7,"v":1790.66},{"i":136.8,"v":1790.59},{"i":141,"v":1790.52},{"i":145.2,"v":1790.35},{"i":149.3,"v":1790.47},{"i":153.5,"v":1790.59},{"i":157.7,"v":1790.71},{"i":161.8,"v":1790.76},{"i":166,"v":1791.08},{"i":170.2,"v":1791.39},{"i":174.3,"v":1791.57},{"i":178.5,"v":1791.69},{"i":182.7,"v":1791.81},{"i":186,"v":1791.81},{"i":188.5,"v":1791.57},{"i":195,"v":1791.0},{"i":200,"v":1790.3},{"i":205,"v":1789.6},{"i":210,"v":1788.9},{"i":215,"v":1788.2},{"i":220,"v":1787.6},{"i":225,"v":1787.1},{"i":230,"v":1786.6},{"i":235,"v":1786.0},{"i":240,"v":1785.4},{"i":245,"v":1784.8},{"i":248.5,"v":1784.38},{"i":252.7,"v":1783.89},{"i":256.8,"v":1783.04},{"i":261,"v":1781.82},{"i":265.2,"v":1780.72},{"i":269.3,"v":1779.87},{"i":273.5,"v":1779.14},{"i":277.7,"v":1778.16},{"i":282.7,"v":1777.19},{"i":286.8,"v":1776.7},{"i":291,"v":1776.09},{"i":295.2,"v":1775.41},{"i":299.3,"v":1774.75},{"i":303.5,"v":1774.14},{"i":307.7,"v":1773.65},{"i":311.8,"v":1773.04},{"i":316,"v":1772.43},{"i":320.2,"v":1771.75},{"i":324.3,"v":1771.09},{"i":328.5,"v":1770.53},{"i":332.7,"v":1770.12},{"i":336.8,"v":1769.56},{"i":341,"v":1768.9},{"i":345.2,"v":1768.29},{"i":349.3,"v":1767.56},{"i":353.5,"v":1766.7},{"i":357.7,"v":1765.85},{"i":361.8,"v":1764.88},{"i":366,"v":1764.15},{"i":370.2,"v":1763.05},{"i":373.5,"v":1762.19},{"i":376,"v":1761.7},{"i":381,"v":1760.48},{"i":385.2,"v":1759.63},{"i":389.3,"v":1758.82},{"i":393.5,"v":1758.29},{"i":397.7,"v":1757.43},{"i":401.8,"v":1756.82},{"i":406,"v":1756.21},{"i":410.2,"v":1755.24},{"i":414.3,"v":1753.9},{"i":418.5,"v":1752.68},{"i":422.7,"v":1751.46},{"i":426.8,"v":1750.24},{"i":431,"v":1748.78},{"i":435.2,"v":1747.56},{"i":439.3,"v":1746.71},{"i":443,"v":1745.9}
],
"zones":[{"i1":402,"i2":552.75,"p1":1744.38,"p2":1745.92},{"i1":419,"i2":556.5,"p1":1728.98,"p2":1730.1}]
},
"layer":[
{"data":{"name":"zones"},"mark":{"type":"rect","color":"#FF8080"},
 "encoding":{"x":{"field":"i1","type":"quantitative","scale":{"domain":[-0.875,554.625],"nice":false,"zero":false},"axis":null},"x2":{"field":"i2"},
 "y":{"field":"p1","type":"quantitative","scale":{"domain":[1725.57,1811.88],"nice":false,"zero":false},"axis":null},"y2":{"field":"p2"}}},
{"data":{"values":[{"p":1734.98}]},"mark":{"type":"rule","color":"#C0C0C0","strokeWidth":1},
 "encoding":{"y":{"field":"p","type":"quantitative","axis":null}}},
{"data":{"name":"candles"},"mark":{"type":"rule","strokeWidth":1},
 "encoding":{
  "x":{"field":"i","type":"quantitative","scale":{"domain":[-0.875,554.625],"nice":false,"zero":false},
   "axis":{"values":[0,32,64,96,128,160,192,224,256,288,320,352,384,416],
    "labelExpr":"['9 Aug 2022','10 Aug 04:00','10 Aug 20:00','11 Aug 13:00','12 Aug 06:00','12 Aug 22:00','15 Aug 15:00','16 Aug 08:00','17 Aug 01:00','17 Aug 17:00','18 Aug 10:00','19 Aug 03:00','19 Aug 19:00','22 Aug 12:00'][round(datum.value/32)]",
    "title":null,"grid":false,"domain":false,"ticks":true,"tickSize":4,"tickColor":"#000000","tickWidth":1,
    "labelAlign":"left","labelBaseline":"top","labelPadding":3,"labelFont":"Liberation Sans","labelFontSize":14,"labelColor":"#000000","labelFlush":false,"labelOverlap":false,"labelBound":false}},
  "y":{"field":"l","type":"quantitative","scale":{"domain":[1725.57,1811.88],"nice":false,"zero":false},
   "axis":{"orient":"right","values":[1728.1,1732.85,1737.65,1742.4,1747.15,1751.9,1756.65,1761.4,1766.15,1770.9,1775.7,1780.45,1785.2,1789.95,1794.7,1799.45,1804.2,1808.95],
    "format":".2f","title":null,"grid":false,"domain":false,"tickSize":5,"tickColor":"#000000","tickWidth":1,"labelPadding":3,
    "labelFont":"Liberation Sans","labelFontSize":14,"labelColor":"#000000","labelOverlap":false,"labelFlush":false,"labelBound":false}},
  "y2":{"field":"h"},
  "color":{"condition":{"test":"datum.c >= datum.o","value":"#FF0000"},"value":"#0000FF"}}},
{"data":{"name":"candles"},"mark":{"type":"bar","width":3},
 "encoding":{"x":{"field":"i","type":"quantitative","axis":null},"y":{"field":"o","type":"quantitative","axis":null},"y2":{"field":"c"},
  "color":{"condition":{"test":"datum.c >= datum.o","value":"#FF0000"},"value":"#0000FF"}}},
{"data":{"name":"ma1"},"mark":{"type":"line","color":"#0000FF","strokeWidth":2.5},
 "encoding":{"x":{"field":"i","type":"quantitative","axis":null},"y":{"field":"v","type":"quantitative","axis":null}}},
{"data":{"name":"ma2"},"mark":{"type":"line","color":"#FF00FF","strokeWidth":2.5},
 "encoding":{"x":{"field":"i","type":"quantitative","axis":null},"y":{"field":"v","type":"quantitative","axis":null}}},
{"data":{"values":[{"i":445.25,"p":1734.22},{"i":451.5,"p":1742.24}]},"mark":{"type":"line","color":"#808080","opacity":0.3,"strokeWidth":8},
 "encoding":{"x":{"field":"i","type":"quantitative","axis":null},"y":{"field":"p","type":"quantitative","axis":null}}},
{"data":{"values":[{"i":452.3,"p":1743.41}]},"mark":{"type":"point","shape":"M0,-1L1,1L-1,1Z","size":1000,"angle":12.5,"filled":true,"color":"#808080","opacity":0.3,"strokeWidth":0},
 "encoding":{"x":{"field":"i","type":"quantitative","axis":null},"y":{"field":"p","type":"quantitative","axis":null}}},
{"data":{"values":[{"i":444.25,"p":1734.52},{"i":450.5,"p":1742.54}]},"mark":{"type":"line","color":"#C00000","strokeWidth":6},
 "encoding":{"x":{"field":"i","type":"quantitative","axis":null},"y":{"field":"p","type":"quantitative","axis":null}}},
{"data":{"values":[{"i":451.3,"p":1743.71}]},"mark":{"type":"point","shape":"M0,-1L1,1L-1,1Z","size":900,"angle":12.5,"filled":true,"color":"#C00000","opacity":1,"strokeWidth":0},
 "encoding":{"x":{"field":"i","type":"quantitative","axis":null},"y":{"field":"p","type":"quantitative","axis":null}}},
{"data":{"values":[{"i":56.3,"p":1804.0,"t":"黄金30分钟图"}]},"mark":{"type":"text","align":"left","baseline":"alphabetic","font":"Noto Sans CJK SC","fontSize":47,"fontWeight":"normal","color":"#0A0A80"},
 "encoding":{"x":{"field":"i","type":"quantitative","axis":null},"y":{"field":"p","type":"quantitative","axis":null},"text":{"field":"t"}}},
{"data":{"values":[{"i":-0.6,"p":1810.65,"t":"▼ XAUUSD_,M30\u00a0 1734.86 1735.54 1734.68 1734.98"}]},"mark":{"type":"text","align":"left","baseline":"alphabetic","font":"Liberation Sans","fontSize":14,"color":"#000000"},
 "encoding":{"x":{"field":"i","type":"quantitative","axis":null},"y":{"field":"p","type":"quantitative","axis":null},"text":{"field":"t"}}},
{"data":{"values":[{"i":443.5,"p":1811.6}]},"mark":{"type":"point","shape":"triangle-down","size":60,"filled":true,"color":"#A0A0A0","opacity":1},
 "encoding":{"x":{"field":"i","type":"quantitative","axis":null},"y":{"field":"p","type":"quantitative","axis":null}}},
{"data":{"values":[{"i1":555.25,"i2":570.75,"p1":1734.4,"p2":1735.55}]},"mark":{"type":"rect","color":"#000000"},
 "encoding":{"x":{"field":"i1","type":"quantitative","axis":null},"x2":{"field":"i2"},"y":{"field":"p1","type":"quantitative","axis":null},"y2":{"field":"p2"}}},
{"data":{"values":[{"i":556.7,"p":1734.98,"t":"1734.98"}]},"mark":{"type":"text","align":"left","baseline":"middle","font":"Liberation Sans","fontSize":14,"color":"#FFFFFF"},
 "encoding":{"x":{"field":"i","type":"quantitative","axis":null},"y":{"field":"p","type":"quantitative","axis":null},"text":{"field":"t"}}}
]
}
